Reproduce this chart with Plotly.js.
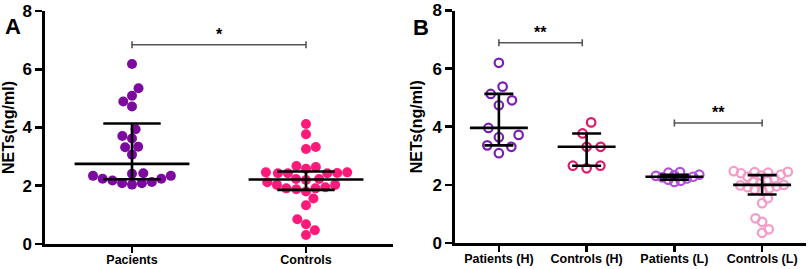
<!DOCTYPE html>
<html>
<head>
<meta charset="utf-8">
<script src="https://cdn.plot.ly/plotly-3.0.1.min.js"></script>
<style>html,body{margin:0;padding:0;background:#fff;}#chart{width:809px;height:269px;}</style>
</head>
<body>
<div id="chart"></div>
<script>
// ---- data ----
const catsA = ['Pacients', 'Controls'];
const pacientsA = [6.18, 5.35, 5.09, 4.89, 4.72, 3.94, 3.71, 3.62, 3.34, 3.32, 3.07,
                   2.43, 2.34, 2.24, 2.18, 2.09, 2.04, 2.09, 2.13, 2.24, 2.34, 2.41];
const controlsA = [4.12, 3.77, 3.33, 3.26, 2.68, 2.58, 2.46, 2.43, 2.43, 2.43, 2.44, 2.46, 2.64,
                   2.23, 2.20, 2.03, 1.91, 1.88, 1.80, 1.91, 1.95, 2.03, 2.12, 2.23,
                   1.56, 1.33, 0.85, 0.68, 0.47, 0.31];
const catsB = ['Patients (H)', 'Controls (H)', 'Patients (L)', 'Controls (L)'];
const patientsH = [6.20, 5.38, 5.13, 4.91, 4.74, 3.96, 3.72, 3.64, 3.36, 3.31, 3.09];
const controlsH = [4.15, 3.77, 3.31, 3.31, 2.66, 2.57, 2.66];
const patientsL = [2.44, 2.42, 2.35, 2.33, 2.31, 2.28, 2.26, 2.22, 2.18, 2.14, 2.10];
const controlsL = [0.35, 0.47, 0.73, 0.85, 1.37, 1.54, 1.80, 1.84, 1.88, 1.92, 1.95, 1.98, 2.00,
                   2.05, 2.10, 2.16, 2.22, 2.28, 2.32, 2.35, 2.40, 2.42, 2.44, 2.45, 2.47];
const yTicks = [0, 2, 4, 6, 8];
const sigA = '*';
const sigB = ['**', '**'];

// ---- helpers ----
const W = 809, H = 269;
const domAx = [45 / W, 393 / W], domBx = [455 / W, 806 / W];
const domAy = [(H - 244) / H, (H - 11) / H], domBy = [(H - 243) / H, (H - 10.5) / H];
const pxPerUnitY = (244 - 11) / 8;
const pxPerUnitXA = (393 - 45) / 2, pxPerUnitXB = (806 - 455) / 4;

function quant(sorted, p) {
  const n = sorted.length, pos = (n + 1) * p, lo = Math.floor(pos), f = pos - lo;
  if (lo < 1) return sorted[0];
  if (lo >= n) return sorted[n - 1];
  return sorted[lo - 1] + f * (sorted[lo] - sorted[lo - 1]);
}
function stats(vals) {
  const s = vals.slice().sort((a, b) => a - b);
  return {med: quant(s, 0.5), q1: quant(s, 0.25), q3: quant(s, 0.75)};
}
function swarm(vals, pxX, D) {
  const idx = vals.map((v, i) => i).sort((a, b) => vals[a] - vals[b]);
  const placed = [], off = new Array(vals.length);
  let side = 1;
  for (const i of idx) {
    const y = vals[i] * pxPerUnitY;
    const near = placed.filter(p => Math.abs(p.y - y) < D);
    const cands = [0];
    near.forEach(p => { const dx = Math.sqrt(D * D - (p.y - y) ** 2); cands.push(p.x + dx, p.x - dx); });
    const ok = cands.filter(c => near.every(p => (p.x - c) ** 2 + (p.y - y) ** 2 >= D * D - 0.01));
    ok.sort((a, b) => {
      const d = Math.abs(a) - Math.abs(b);
      if (Math.abs(d) > 0.5) return d;
      return side * (b - a);
    });
    const x = ok[0];
    if (x !== 0) side = -side;
    placed.push({x: x, y: y});
    off[i] = x / pxX;
  }
  return off;
}

const traces = [];
const fontFam = 'Arial, "Liberation Sans", sans-serif';

function addGroup(vals, pos, xa, ya, pxX, D, marker, name) {
  const off = swarm(vals, pxX, D);
  traces.push({type: 'scatter', mode: 'markers', name: name, x: vals.map((v, i) => pos + off[i]), y: vals,
    xaxis: xa, yaxis: ya, marker: marker, hoverinfo: 'y', showlegend: false, cliponaxis: false});
  const st = stats(vals);
  const wm = 0.33, wc = 0.165;
  traces.push({type: 'scatter', mode: 'lines', x: [pos - wm, pos + wm, null, pos - wc, pos + wc, null, pos - wc, pos + wc, null, pos, pos],
    y: [st.med, st.med, null, st.q1, st.q1, null, st.q3, st.q3, null, st.q1, st.q3],
    xaxis: xa, yaxis: ya, line: {color: '#000', width: 2.6}, hoverinfo: 'skip', showlegend: false});
}

addGroup(pacientsA, 0, 'x', 'y', pxPerUnitXA, 10, {symbol: 'circle', size: 10, color: '#7c0a9f'}, catsA[0]);
addGroup(controlsA, 1, 'x', 'y', pxPerUnitXA, 10, {symbol: 'circle', size: 10, color: '#ff1a7a'}, catsA[1]);
const openM = c => ({symbol: 'circle-open', size: 8.5, color: c, line: {width: 2.2, color: c}});
addGroup(patientsH, 0, 'x2', 'y2', pxPerUnitXB, 14, openM('#7a1fb3'), catsB[0]);
addGroup(controlsH, 1, 'x2', 'y2', pxPerUnitXB, 14, openM('#e0176a'), catsB[1]);
addGroup(patientsL, 2, 'x2', 'y2', pxPerUnitXB, 6.5, openM('#b04fe0'), catsB[2]);
addGroup(controlsL, 3, 'x2', 'y2', pxPerUnitXB, 7.5, openM('#f59bc8'), catsB[3]);

function bracket(xr, yr, x0, x1, y) {
  const c = {color: '#555', width: 1.6};
  return [
    {type: 'line', xref: xr, yref: yr, x0: x0, x1: x1, y0: y, y1: y, line: c},
    {type: 'line', xref: xr, yref: yr, x0: x0, x1: x0, y0: y - 0.12, y1: y + 0.12, line: c},
    {type: 'line', xref: xr, yref: yr, x0: x1, x1: x1, y0: y - 0.12, y1: y + 0.12, line: c}
  ];
}
const shapes = [].concat(bracket('x', 'y', 0, 1, 6.84), bracket('x2', 'y2', 0, 0.95, 6.89), bracket('x2', 'y2', 2, 3, 4.13));

const tickFont = {family: fontFam, size: 17, color: '#000', weight: 'bold'};
const catFont = {family: fontFam, size: 12.5, color: '#000', weight: 'bold'};
const titleFont = {family: fontFam, size: 16, color: '#000', weight: 'bold'};
function yax(dom, anchor) {
  return {domain: dom, anchor: anchor, range: [0, 8], tickvals: yTicks, ticktext: yTicks.map(String),
    showline: true, linecolor: '#000', linewidth: 2.6, ticks: 'outside', ticklen: 7, tickwidth: 2.6, tickcolor: '#000',
    showgrid: false, zeroline: false, tickfont: tickFont, fixedrange: true,
    title: {text: 'NETs(ng/ml)', font: titleFont, standoff: 6}};
}
function xax(dom, anchor, cats) {
  return {domain: dom, anchor: anchor, range: [-0.5, cats.length - 0.5], tickvals: cats.map((c, i) => i), ticktext: cats,
    showline: true, linecolor: '#000', linewidth: 2.6, ticks: 'outside', ticklen: 6, tickwidth: 2.6, tickcolor: '#000',
    ticklabelstandoff: -4,
    showgrid: false, zeroline: false, tickfont: catFont, fixedrange: true};
}

const layout = {
  width: W, height: H, margin: {l: 0, r: 0, t: 0, b: 0}, paper_bgcolor: '#fff', plot_bgcolor: '#fff',
  showlegend: false, font: {family: fontFam},
  xaxis: xax(domAx, 'y', catsA), yaxis: yax(domAy, 'x'),
  xaxis2: xax(domBx, 'y2', catsB), yaxis2: yax(domBy, 'x2'),
  shapes: shapes,
  annotations: [
    {text: 'A', xref: 'paper', yref: 'paper', x: 3 / W, y: 1 - 12 / H, xanchor: 'left', showarrow: false, font: {family: fontFam, size: 22, color: '#000', weight: 'bold'}},
    {text: 'B', xref: 'paper', yref: 'paper', x: 411 / W, y: 1 - 13 / H, xanchor: 'left', showarrow: false, font: {family: fontFam, size: 22, color: '#000', weight: 'bold'}},
    {text: sigA, xref: 'x', yref: 'y', x: 0.5, y: 6.84, yshift: 10, showarrow: false, font: {family: fontFam, size: 16, color: '#000', weight: 'bold'}},
    {text: sigB[0], xref: 'x2', yref: 'y2', x: 0.475, y: 6.89, yshift: 10, showarrow: false, font: {family: fontFam, size: 16, color: '#000', weight: 'bold'}},
    {text: sigB[1], xref: 'x2', yref: 'y2', x: 2.5, y: 4.13, yshift: 10, showarrow: false, font: {family: fontFam, size: 16, color: '#000', weight: 'bold'}}
  ]
};
Plotly.newPlot('chart', traces, layout, {staticPlot: true, displayModeBar: false});
</script>
</body>
</html>
